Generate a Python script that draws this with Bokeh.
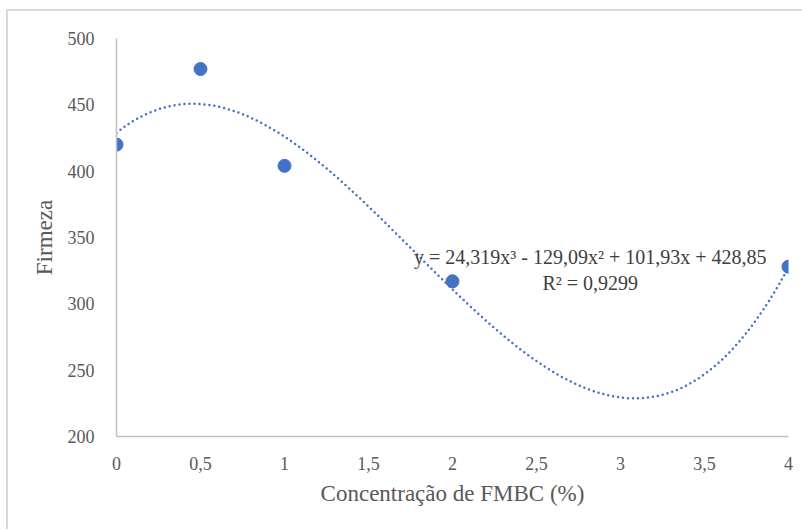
import numpy as np
from bokeh.plotting import figure
from bokeh.models import Range1d, FixedTicker, Label
from bokeh.embed import file_html
from bokeh.resources import INLINE

# data
conc = [0, 0.5, 1, 2, 4]
firmeza = [420, 477, 404, 317, 328]
coef = [24.319, -129.09, 101.93, 428.85]  # trendline (cubic), from chart label
x_ticks = [0, 0.5, 1, 1.5, 2, 2.5, 3, 3.5, 4]
x_tick_labels = ["0", "0,5", "1", "1,5", "2", "2,5", "3", "3,5", "4"]
y_ticks = [200, 250, 300, 350, 400, 450, 500]
eq_text = "y = 24,319x\u00b3 - 129,09x\u00b2 + 101,93x + 428,85"
r2_text = "R\u00b2 = 0,9299"

FONT = "Liberation Serif"
GRAY = "#595959"
BLUE = "#4472C4"

p = figure(width=796, height=520, output_backend="svg", toolbar_location=None,
           x_range=Range1d(0, 4), y_range=Range1d(200, 500),
           min_border_left=108, min_border_right=16, min_border_top=27,
           min_border_bottom=95)
p.margin = (9, 0, 0, 6)
p.styles = {"border-left": "2px solid #d9d9d9", "border-top": "2px solid #d9d9d9"}
p.outline_line_color = None
p.background_fill_color = "white"
p.border_fill_color = "white"
p.xgrid.visible = False
p.ygrid.visible = False

for ax in (p.xaxis[0], p.yaxis[0]):
    ax.axis_line_color = "#bfbfbf"
    ax.axis_line_width = 1.5
    ax.major_tick_line_color = None
    ax.minor_tick_line_color = None
    ax.major_label_text_font = FONT
    ax.major_label_text_font_size = "18px"
    ax.major_label_text_color = GRAY
    ax.axis_label_text_font = FONT
    ax.axis_label_text_font_size = "23px"
    ax.axis_label_text_color = GRAY
    ax.axis_label_text_font_style = "normal"

p.xaxis.ticker = FixedTicker(ticks=x_ticks)
p.xaxis.major_label_overrides = {t: l for t, l in zip(x_ticks, x_tick_labels)}
p.yaxis.ticker = FixedTicker(ticks=y_ticks)
p.xaxis.axis_label = "Concentração de FMBC (%)"
p.yaxis.axis_label = "Firmeza"
p.xaxis.major_label_standoff = 14
p.yaxis.major_label_standoff = 16
p.xaxis.axis_label_standoff = 8
p.yaxis.axis_label_standoff = 8

xs = np.linspace(0, 4, 300)
ys = np.polyval(coef, xs)
p.line(xs, ys, line_color=BLUE, line_width=2.5, line_dash="0 5", line_cap="round")

p.scatter(conc, firmeza, size=13, fill_color=BLUE, line_color=BLUE, line_width=1)

p.add_layout(Label(x=2.82, y=335, text=eq_text, text_align="center", text_baseline="middle",
                   text_font=FONT, text_font_size="20px", text_color="#404040"))
p.add_layout(Label(x=2.82, y=316, text=r2_text, text_align="center", text_baseline="middle",
                   text_font=FONT, text_font_size="20px", text_color="#404040"))

open("out.html", "w").write(file_html(p, INLINE))
